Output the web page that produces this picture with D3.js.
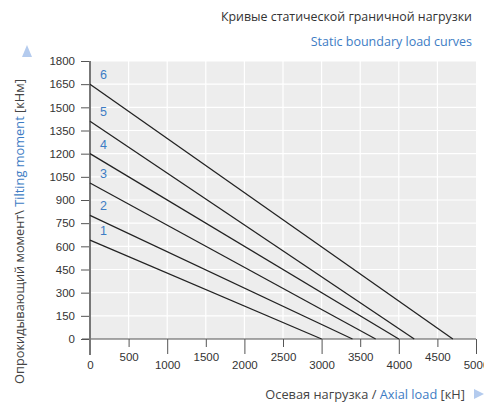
<!DOCTYPE html>
<html>
<head>
<meta charset="utf-8">
<script src="https://cdn.jsdelivr.net/npm/d3@7"></script>
<style>
  body { margin: 0; background: #fff; }
  .ttl { font-family: "Open Sans", "Noto Sans", sans-serif; }
</style>
</head>
<body>
<div id="chart"></div>
<script>
const width = 484, height = 405,
    margin = ({ top: 61, right: 8, bottom: 66, left: 90 });

// data
const curveNames = ["1", "2", "3", "4", "5", "6"];
const momentAtZero = [640, 800, 1010, 1200, 1410, 1650]; // kNm at axial load 0
const loadAtZero = [3000, 3400, 3700, 4000, 4200, 4700];  // kN at moment 0
const xTicks = [0, 500, 1000, 1500, 2000, 2500, 3000, 3500, 4000, 4500, 5000];
const yTicks = [0, 150, 300, 450, 600, 750, 900, 1050, 1200, 1350, 1500, 1650, 1800];

const blue = "#3d7cc4";
const tickFont = "'Liberation Sans', Arial, sans-serif";

const svg = d3.select("#chart")
    .append("svg")
    .attr("width", width)
    .attr("height", height);

let x = d3.scaleLinear()
    .domain([0, 5000])
    .range([margin.left, width - margin.right]);

let y = d3.scaleLinear()
    .domain([0, 1800])
    .range([height - margin.bottom, margin.top]);

// plot background
svg.append("rect")
    .attr("x", x(0)).attr("y", y(1800))
    .attr("width", x(5000) - x(0))
    .attr("height", y(0) - y(1800))
    .attr("fill", "#ededed");

// white grid
svg.append("g").selectAll("line")
    .data(xTicks.slice(1, -1))
    .join("line")
    .attr("x1", d => x(d)).attr("x2", d => x(d))
    .attr("y1", y(0)).attr("y2", y(1800))
    .attr("stroke", "#fff").attr("stroke-width", 1.2);

svg.append("g").selectAll("line")
    .data(yTicks.slice(1))
    .join("line")
    .attr("x1", x(0)).attr("x2", x(5000))
    .attr("y1", d => y(d)).attr("y2", d => y(d))
    .attr("stroke", "#fff").attr("stroke-width", 1.2);

// y axis
const yAxis = svg.append("g")
    .attr("transform", `translate(${margin.left},0)`)
    .call(d3.axisLeft(y).tickValues(yTicks).tickFormat(d3.format("d")).tickSize(9).tickPadding(6))
    .attr("font-family", tickFont);
yAxis.select(".domain").remove();
yAxis.selectAll("line").attr("stroke", "#555");
yAxis.selectAll("text").attr("font-size", 11.5).attr("fill", "#333");

// x axis, long ticks on thousands, short ones between, labels staggered
const xAxis = svg.append("g")
    .attr("transform", `translate(0,${height - margin.bottom})`)
    .call(d3.axisBottom(x).tickValues(xTicks).tickFormat(d3.format("d")).tickSize(8))
    .attr("font-family", tickFont);
xAxis.select(".domain").remove();
xAxis.selectAll(".tick line")
    .attr("stroke", "#555")
    .attr("y2", (d, i) => i % 2 === 0 ? 15 : 8);
xAxis.selectAll(".tick text")
    .attr("font-size", 11.5).attr("fill", "#333")
    .attr("dy", "0")
    .attr("y", (d, i) => i % 2 === 0 ? 30 : 22);

// axis lines
svg.append("line")
    .attr("x1", x(0) - 8).attr("x2", x(5000))
    .attr("y1", y(0)).attr("y2", y(0))
    .attr("stroke", "#555").attr("stroke-width", 1.2);
svg.append("line")
    .attr("x1", x(0)).attr("x2", x(0))
    .attr("y1", y(1800)).attr("y2", y(0) + 16)
    .attr("stroke", "#777").attr("stroke-width", 2);

// curves
const curves = curveNames.map((n, i) => ({
    name: n,
    pts: [[0, momentAtZero[i]], [loadAtZero[i], 0]]
}));

svg.append("g").selectAll("path")
    .data(curves)
    .join("path")
    .attr("d", d => d3.line().x(p => x(p[0])).y(p => y(p[1]))(d.pts))
    .attr("fill", "none")
    .attr("stroke", "#222")
    .attr("stroke-width", 1.3);

svg.append("g").selectAll("text")
    .data(curves)
    .join("text")
    .attr("x", x(0) + 10)
    .attr("y", d => y(d.pts[0][1]) - 5)
    .attr("font-family", tickFont)
    .attr("font-size", 12.5)
    .attr("fill", blue)
    .text(d => d.name);

// titles
svg.append("text")
    .attr("class", "ttl")
    .attr("x", 472).attr("y", 21)
    .attr("text-anchor", "end")
    .attr("font-size", 12.4)
    .attr("fill", "#333")
    .text("Кривые статической граничной нагрузки");

svg.append("text")
    .attr("class", "ttl")
    .attr("x", 472).attr("y", 46)
    .attr("text-anchor", "end")
    .attr("font-size", 12.5)
    .attr("fill", blue)
    .text("Static boundary load curves");

// y label
const yl = svg.append("text")
    .attr("class", "ttl")
    .attr("transform", "translate(24,384) rotate(-90)")
    .attr("font-size", 12.8)
    .attr("fill", "#444");
yl.append("tspan").text("Опрокидывающий момент\\ ");
yl.append("tspan").attr("fill", blue).text("Tilting moment");
yl.append("tspan").text(" [кНм]");

svg.append("path")
    .attr("d", "M22,57 L27,45 L32,57 Z")
    .attr("fill", "#b4cbee");

// x label
const xl = svg.append("text")
    .attr("class", "ttl")
    .attr("x", 465).attr("y", 399)
    .attr("text-anchor", "end")
    .attr("font-size", 12.8)
    .attr("fill", "#444");
xl.append("tspan").text("Осевая нагрузка / ");
xl.append("tspan").attr("fill", blue).text("Axial load");
xl.append("tspan").text(" [кН]");

svg.append("path")
    .attr("d", "M474,389 L484,394 L474,399 Z")
    .attr("fill", "#b4cbee");
</script>
</body>
</html>
